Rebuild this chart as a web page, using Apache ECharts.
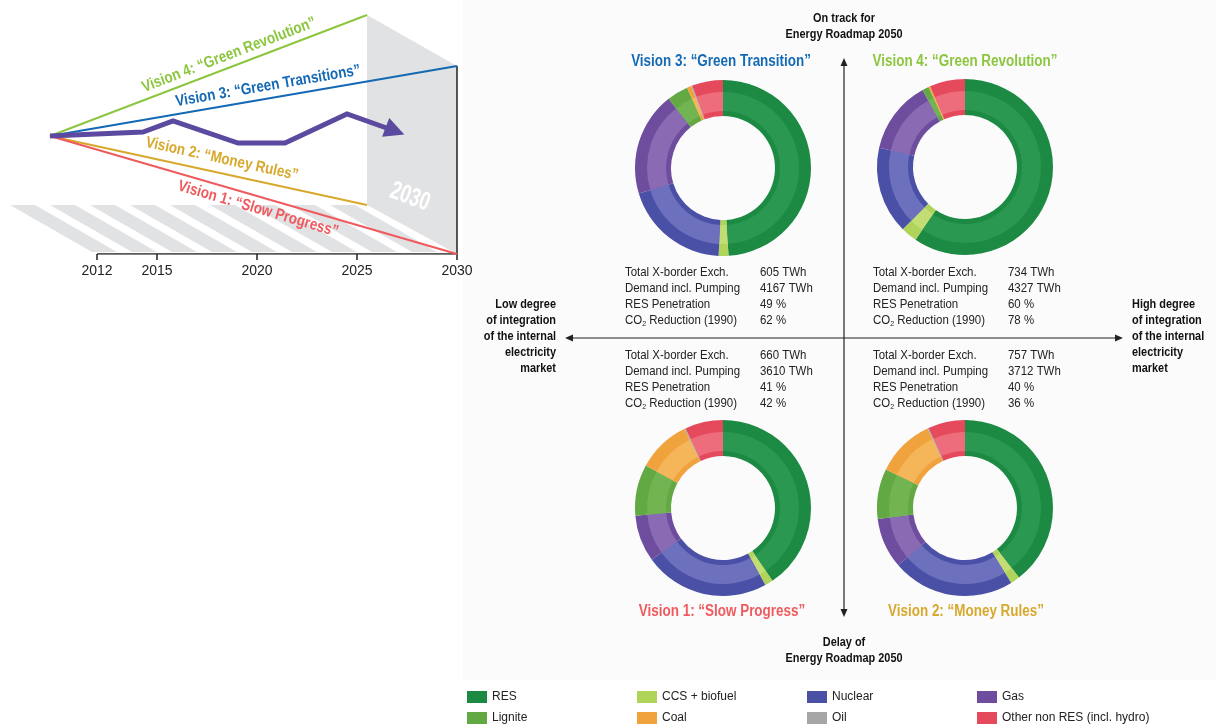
<!DOCTYPE html>
<html>
<head>
<meta charset="utf-8">
<script src="https://cdn.jsdelivr.net/npm/echarts@6/dist/echarts.min.js"></script>
<style>
  html, body { margin: 0; padding: 0; background: #fff; }
  #chart { width: 1216px; height: 727px; }
</style>
</head>
<body>
<div id="chart"></div>
<script>
  // left diagram: timeline of the four visions
  const tickYears = [2012, 2015, 2020, 2025, 2030]
  const startPoint = [2009.65, 118]
  const v1End = [2030, 0]
  const v2End = [2025.5, 49]
  const v3End = [2030, 188]
  const v4End = [2025.5, 239]
  const trendPath = [[2009.65, 118], [2014.3, 122], [2015.8, 133], [2019.05, 111], [2021.4, 111], [2024.5, 140], [2026.9, 123]]
  const stripeStarts = [2007.65, 2009.65, 2011.65, 2013.65, 2015.65, 2017.65, 2019.65, 2021.65, 2023.65]

  // right diagram: generation mix per vision (% of demand)
  const fuels = ['RES', 'CCS + biofuel', 'Nuclear', 'Gas', 'Lignite', 'Coal', 'Oil', 'Other non RES (incl. hydro)']
  const mixV1 = [40.5, 1.5, 23, 8.6, 9.4, 9.8, 0.2, 7]
  const mixV2 = [39.5, 1.7, 22.5, 9.3, 9.2, 10.8, 0.2, 6.8]
  const mixV3 = [49, 1.8, 19.5, 19.1, 3.9, 0.8, 0.2, 5.7]
  const mixV4 = [59.5, 3, 16, 13.5, 1.2, 0.3, 0, 6.5]

  const statLabels = ['Total X-border Exch.', 'Demand incl. Pumping', 'RES Penetration', 'CO{sub|2} Reduction (1990)']
  const statsV1 = ['660 TWh', '3610 TWh', '41 %', '42 %']
  const statsV2 = ['757 TWh', '3712 TWh', '40 %', '36 %']
  const statsV3 = ['605 TWh', '4167 TWh', '49 %', '62 %']
  const statsV4 = ['734 TWh', '4327 TWh', '60 %', '78 %']

  const FONT = "'Liberation Sans', Arial, sans-serif"
  const fuelColors = ['#1d8a43', '#b0d35a', '#4a50a6', '#6e4c9e', '#62a843', '#f0a23d', '#a6a6a6', '#e54a5c']
  const fuelLight = ['#2a9850', '#c2dd74', '#6d71bd', '#8a6bb3', '#72b452', '#f5b65a', '#bdbdbd', '#ee6d7d']
  const C_V1 = '#ef5a5e'
  const C_V2 = '#d7a82c'
  const C_V3 = '#1469b4'
  const C_V4 = '#8cc63f'
  const C_PANEL = '#e1e2e4'

  const STRIPE_W = 1.25
  const STRIPE_SHIFT = 4.1
  const NARROW = 0.84 // condensed look

  function visionLine(end, color) {
    return {
      type: 'line', data: [startPoint, end], symbol: 'none', z: 3,
      lineStyle: {color: color, width: 2}, silent: true
    }
  }

  function pieRing(mix, center, light) {
    return {
      type: 'pie',
      center: center,
      radius: light ? [57, 76] : [52, 88],
      startAngle: 90,
      label: {show: false},
      labelLine: {show: false},
      silent: true,
      z: light ? 3 : 2,
      data: fuels.map((f, i) => ({
        name: f, value: mix[i],
        itemStyle: {color: light ? fuelLight[i] : fuelColors[i]}
      }))
    }
  }

  function statBlock(x, y, values) {
    return [{
      type: 'text', x: x, y: y, scaleX: 0.88,
      style: {
        text: statLabels.join('\n'), fill: '#222', fontFamily: FONT, fontSize: 13, lineHeight: 16,
        rich: {sub: {fontSize: 8, fontFamily: FONT, lineHeight: 10, verticalAlign: 'bottom', fill: '#222'}}
      }
    }, {
      type: 'text', x: x + 135, y: y, scaleX: 0.88,
      style: {text: values.join('\n'), fill: '#222', fontFamily: FONT, fontSize: 13, lineHeight: 16}
    }]
  }

  function label(text, x, y, color, size, rot, align) {
    return {
      type: 'text', x: x, y: y, rotation: rot || 0, scaleX: NARROW, z: 10,
      style: {
        text: text, fill: color, fontFamily: FONT, fontWeight: 'bold', fontSize: size, lineHeight: 16,
        align: align || 'center', verticalAlign: 'middle'
      }
    }
  }

  const chart = echarts.init(document.getElementById('chart'))

  const legends = fuels.map((f, i) => ({
    data: [{name: f, itemStyle: {color: fuelColors[i]}}],
    left: 462 + (i % 4) * 170,
    top: i < 4 ? 686 : 707,
    icon: 'rect', itemWidth: 20, itemHeight: 12, selectedMode: false,
    textStyle: {fontFamily: FONT, fontSize: 12, color: '#222'}
  }))

  chart.setOption({
    animation: false,
    backgroundColor: '#fff',
    grid: {left: 1, top: 4, width: 456, height: 250},
    xAxis: {
      type: 'value', min: 2007.2, max: 2030,
      axisLine: {show: false},
      splitLine: {show: false},
      axisTick: {show: true, customValues: tickYears, length: 6, lineStyle: {color: '#222', width: 1.5}},
      axisLabel: {
        customValues: tickYears, margin: 10, fontFamily: FONT, fontSize: 14, color: '#222',
        formatter: v => String(v)
      }
    },
    yAxis: {type: 'value', min: 0, max: 250, show: false},
    legend: legends,
    series: [
      {
        type: 'custom', z: 1, silent: true,
        data: stripeStarts.map(s => [s, 49]),
        renderItem(params, api) {
          const x0 = api.value(0)
          const pts = [[x0, 49], [x0 + STRIPE_W, 49], [x0 + STRIPE_W + STRIPE_SHIFT, 2], [x0 + STRIPE_SHIFT, 2]]
          return {type: 'polygon', shape: {points: pts.map(p => api.coord(p))}, style: {fill: C_PANEL}}
        }
      },
      {
        type: 'custom', z: 2, silent: true,
        data: [[2028, 100]],
        renderItem(params, api) {
          const pts = [v4End, v3End, v1End, v2End]
          return {type: 'polygon', shape: {points: pts.map(p => api.coord(p))}, style: {fill: C_PANEL}}
        }
      },
      {
        type: 'line', data: [[2030, 0], [2030, 188]], symbol: 'none', z: 3, silent: true,
        lineStyle: {color: '#222', width: 1.5}
      },
      {
        type: 'line', data: [[2012, 0], [2030, 0]], symbol: 'none', z: 3, silent: true,
        lineStyle: {color: '#222', width: 1.5}
      },
      visionLine(v4End, C_V4),
      visionLine(v3End, C_V3),
      visionLine(v2End, C_V2),
      visionLine(v1End, C_V1),
      {
        type: 'line', z: 4, silent: true, symbol: 'none', showSymbol: true,
        lineStyle: {color: '#5b4a9f', width: 5, join: 'miter'},
        itemStyle: {color: '#5b4a9f'},
        data: trendPath.map((p, i) => i === trendPath.length - 1
          ? {value: p, symbol: 'triangle', symbolSize: 20, symbolRotate: -111}
          : {value: p})
      },
      pieRing(mixV3, [723, 168], false),
      pieRing(mixV3, [723, 168], true),
      pieRing(mixV4, [965, 167], false),
      pieRing(mixV4, [965, 167], true),
      pieRing(mixV1, [723, 508], false),
      pieRing(mixV1, [723, 508], true),
      pieRing(mixV2, [965, 508], false),
      pieRing(mixV2, [965, 508], true)
    ],
    graphic: [
      {type: 'rect', z: -10, silent: true, shape: {x: 463, y: 0, width: 753, height: 680}, style: {fill: '#fbfbfb'}},
      // line captions on the left
      label('Vision 4: “Green Revolution”', 229, 55, C_V4, 16, 0.365),
      label('Vision 3: “Green Transitions”', 268, 86, C_V3, 16, 0.17),
      label('Vision 2: “Money Rules”', 222, 159, C_V2, 16, -0.215),
      label('Vision 1: “Slow Progress”', 258, 209, C_V1, 16, -0.283),
      Object.assign(label('2030', 410, 197, '#fff', 26, -0.35), {scaleX: 0.7}),
      // quadrant axes
      {type: 'line', shape: {x1: 844, y1: 62, x2: 844, y2: 613}, style: {stroke: '#222', lineWidth: 1.2}},
      {type: 'polygon', shape: {points: [[844, 58], [840.5, 66], [847.5, 66]]}, style: {fill: '#222'}},
      {type: 'polygon', shape: {points: [[844, 617], [840.5, 609], [847.5, 609]]}, style: {fill: '#222'}},
      {type: 'line', shape: {x1: 569, y1: 338, x2: 1119, y2: 338}, style: {stroke: '#222', lineWidth: 1.2}},
      {type: 'polygon', shape: {points: [[565, 338], [573, 334.5], [573, 341.5]]}, style: {fill: '#222'}},
      {type: 'polygon', shape: {points: [[1123, 338], [1115, 334.5], [1115, 341.5]]}, style: {fill: '#222'}},
      label('On track for\nEnergy Roadmap 2050', 844, 26, '#111', 13, 0),
      label('Delay of\nEnergy Roadmap 2050', 844, 650, '#111', 13, 0),
      label('Low degree\nof integration\nof the internal\nelectricity\nmarket', 556, 336, '#111', 13, 0, 'right'),
      label('High degree\nof integration\nof the internal\nelectricity\nmarket', 1132, 336, '#111', 13, 0, 'left'),
      // quadrant titles
      label('Vision 3: “Green Transition”', 721, 62, C_V3, 16, 0),
      label('Vision 4: “Green Revolution”', 965, 62, C_V4, 16, 0),
      label('Vision 1: “Slow Progress”', 722, 612, C_V1, 16, 0),
      label('Vision 2: “Money Rules”', 966, 612, C_V2, 16, 0),
      ...statBlock(625, 264, statsV3),
      ...statBlock(873, 264, statsV4),
      ...statBlock(625, 347, statsV1),
      ...statBlock(873, 347, statsV2)
    ]
  })
</script>
</body>
</html>
